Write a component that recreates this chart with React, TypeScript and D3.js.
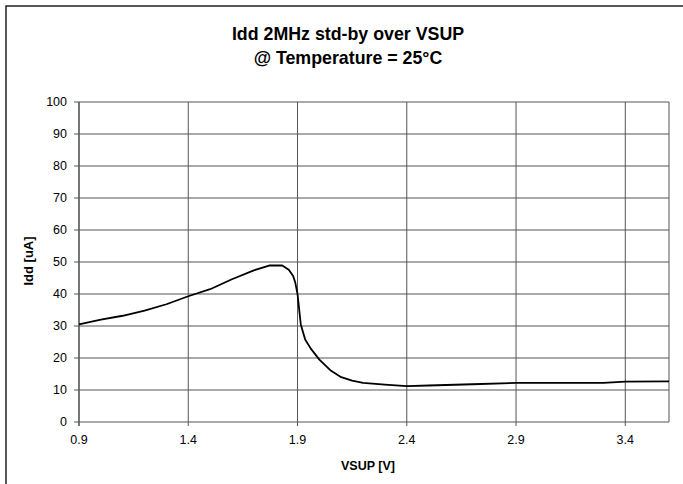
import React from "react";
import * as d3 from "d3";

const vsup: number[] = [0.9, 1.0, 1.1, 1.2, 1.3, 1.4, 1.5, 1.6, 1.7, 1.77, 1.83, 1.86, 1.88, 1.89, 1.9, 1.915, 1.935, 1.96, 2.0, 2.05, 2.1, 2.15, 2.2, 2.3, 2.4, 2.5, 2.7, 2.9, 3.1, 3.3, 3.4, 3.6];
const idd: number[] = [30.5, 32.0, 33.2, 34.8, 36.8, 39.3, 41.5, 44.6, 47.4, 48.9, 48.9, 47.6, 45.6, 43.5, 40.0, 30.5, 25.8, 23.0, 19.5, 16.2, 14.0, 12.9, 12.2, 11.7, 11.2, 11.4, 11.8, 12.2, 12.2, 12.2, 12.6, 12.7];
const xTicks: number[] = [0.9, 1.4, 1.9, 2.4, 2.9, 3.4];
const yTicks: number[] = [0, 10, 20, 30, 40, 50, 60, 70, 80, 90, 100];
const titleLines: string[] = ["Idd 2MHz std-by over VSUP", "@ Temperature = 25°C"];
const xLabel = "VSUP [V]";
const yLabel = "Idd [uA]";

const W = 683, H = 484;
const L = 79, R = 669, T = 102, B = 422;
const FONT = "'Liberation Sans', Arial, sans-serif";

export default function App() {
  const x = d3.scaleLinear().domain([0.9, 3.6]).range([L, R]);
  const y = d3.scaleLinear().domain([0, 100]).range([B, T]);
  const pts = vsup.map((v, i) => [v, idd[i]] as [number, number]);
  const line = d3.line<[number, number]>().x(d => x(d[0])).y(d => y(d[1]));
  const grid = "#555";
  return (
    <svg width={W} height={H} style={{ position: "absolute", left: 0, top: 0, background: "#fff" }} fontFamily={FONT}>
      <rect x={0} y={0} width={W} height={H} fill="#fff" />
      <rect x={6} y={6} width={W + 10} height={H + 10} fill="none" stroke="#222" strokeWidth={1.5} />
      {titleLines.map((t, i) => (
        <text key={i} x={348} y={39.5 + i * 24} textAnchor="middle" fontSize={17.8} fontWeight="bold" fill="#000">{t}</text>
      ))}
      {yTicks.map(t => (
        <g key={"y" + t}>
          <line x1={L - 5} x2={R} y1={y(t)} y2={y(t)} stroke={grid} strokeWidth={1} />
          <text x={L - 12} y={y(t)} dy="0.35em" textAnchor="end" fontSize={12.5} fill="#000">{t}</text>
        </g>
      ))}
      {xTicks.map(t => (
        <g key={"x" + t}>
          <line x1={x(t)} x2={x(t)} y1={T} y2={B + 4} stroke={grid} strokeWidth={1} />
          <text x={x(t)} y={B + 21.5} textAnchor="middle" fontSize={12.5} fill="#000">{t.toFixed(1)}</text>
        </g>
      ))}
      <line x1={R} x2={R} y1={T} y2={B} stroke={grid} strokeWidth={1} />
      <line x1={L} x2={L} y1={T} y2={B + 4} stroke={grid} strokeWidth={1.2} />
      <path d={line(pts) || ""} fill="none" stroke="#000" strokeWidth={1.8} strokeLinejoin="round" />
      <text x={368} y={470} textAnchor="middle" fontSize={12.5} fontWeight="bold" fill="#000">{xLabel}</text>
      <text transform={`translate(33,261) rotate(-90)`} textAnchor="middle" fontSize={13} fontWeight="bold" fill="#000">{yLabel}</text>
    </svg>
  );
}
